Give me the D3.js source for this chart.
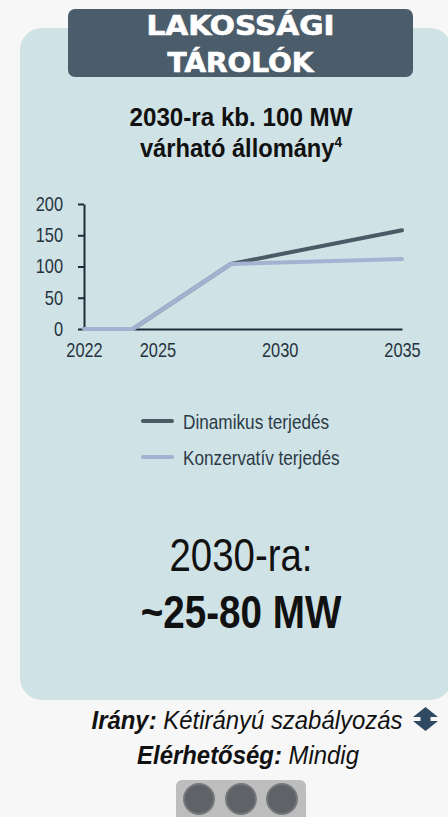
<!DOCTYPE html>
<html><head><meta charset="utf-8">
<script src="https://cdn.jsdelivr.net/npm/d3@7"></script>
<style>
html,body{margin:0;padding:0;background:#f7f7f7;}
svg{display:block;}
</style></head>
<body>
<svg id="chart" width="448" height="817"></svg>
<script>
// ---- data ----
const years = [2022, 2024, 2028, 2035];
const dynamicValues = [0, 0, 104, 158];
const conservativeValues = [0, 0, 104, 112];
const seriesNames = ["Dinamikus terjedés", "Konzervatív terjedés"];
const yTickValues = [0, 50, 100, 150, 200];
const xTickValues = [2022, 2025, 2030, 2035];
const headerLines = ["LAKOSSÁGI", "TÁROLÓK"];
const titleLines = ["2030-ra kb. 100 MW", "várható állomány"];
const bigLines = ["2030-ra:", "~25-80 MW"];

const svg = d3.select("#chart");
const FONT = '"Liberation Sans Narrow","Arial Narrow","Liberation Sans",Arial,sans-serif';

// narrow text helper: horizontally condensed text
function ntext(x, y, sx, size, opts={}) {
  const g = svg.append("g").attr("transform",`translate(${x},${y}) scale(${sx},1)`);
  const t = g.append("text").attr("x",0).attr("y",0)
    .attr("text-anchor",opts.anchor||"middle")
    .attr("font-family",FONT).attr("font-size",size)
    .attr("font-weight",opts.weight||"normal")
    .attr("font-style",opts.style||"normal")
    .attr("fill",opts.fill||"#111");
  return t;
}

// background
svg.append("rect").attr("width",448).attr("height",817).attr("fill","#f7f7f7");
// panel
svg.append("rect").attr("x",20).attr("y",28).attr("width",432).attr("height",672)
  .attr("rx",22).attr("fill","#cfe2e6");
// header
svg.append("rect").attr("x",68).attr("y",9).attr("width",345).attr("height",68)
  .attr("rx",7).attr("fill","#4b5d6b");
const hdrW = [188, 146];
headerLines.forEach((t,i)=>{
  svg.append("text").attr("x",240.5).attr("y",[35,72][i]).attr("text-anchor","middle")
    .attr("font-family","'DejaVu Sans',sans-serif").attr("font-weight","bold")
    .attr("font-size",27).attr("fill","#ffffff").attr("stroke","#ffffff").attr("stroke-width",0.7)
    .attr("textLength",hdrW[i]).attr("lengthAdjust","spacingAndGlyphs").text(t);
});

// title
ntext(241,126,0.93,26,{weight:"bold"}).text(titleLines[0]);
const t2 = ntext(241,157,0.91,26,{weight:"bold"});
t2.append("tspan").text(titleLines[1]);
t2.append("tspan").attr("font-size",15).attr("dy",-10).text("4");

// scales
const x = d3.scaleLinear().domain([2022,2035]).range([84,402]);
const y = d3.scaleLinear().domain([0,200]).range([329,204]);

// axes
const yAxis = svg.append("g").attr("transform","translate(84,0)")
  .call(d3.axisLeft(y).tickValues(yTickValues).tickSizeInner(6).tickSizeOuter(0).tickPadding(15));
const xAxis = svg.append("g").attr("transform","translate(0,329)")
  .call(d3.axisBottom(x).tickValues(xTickValues).tickFormat(d3.format("d")).tickSize(0).tickPadding(14));
[yAxis,xAxis].forEach(g=>{
  g.select(".domain").attr("stroke","#1f2c38").attr("stroke-width",2);
  g.selectAll(".tick line").attr("stroke","#1f2c38").attr("stroke-width",2);
  g.selectAll(".tick text").attr("font-family",FONT).attr("font-size",20).attr("fill","#26323d");
});
yAxis.selectAll(".tick text").each(function(){
  const tx = +d3.select(this).attr("x");
  d3.select(this).attr("x",0).attr("transform",`translate(${tx},0) scale(0.82,1)`);
});
xAxis.selectAll(".tick text").attr("transform","scale(0.82,1)");

// lines
const line = d3.line().x((d,i)=>x(years[i])).y(d=>y(d));
const colors = ["#4b5a65","#a3b2d0"];
[dynamicValues, conservativeValues].forEach((vals,k)=>{
  svg.append("path").datum(vals).attr("d",line).attr("fill","none")
    .attr("stroke",colors[k]).attr("stroke-width",4).attr("stroke-linejoin","round").attr("stroke-linecap","round");
});

// legend
seriesNames.forEach((n,i)=>{
  const yy = 421 + i*36;
  svg.append("line").attr("x1",143).attr("x2",172).attr("y1",yy).attr("y2",yy)
    .attr("stroke",colors[i]).attr("stroke-width",4).attr("stroke-linecap","round");
  ntext(183,yy+8,0.86,20,{anchor:"start",fill:"#2c3a46"}).text(n);
});

// big text
ntext(241,571,0.835,46).text(bigLines[0]);
ntext(241,628,0.84,46,{weight:"bold"}).text(bigLines[1]);

// bottom texts
const b1 = ntext(247,729,0.92,26,{style:"italic"});
b1.append("tspan").attr("font-weight","bold").text("Irány:");
b1.append("tspan").text(" Kétirányú szabályozás");
const b2 = ntext(248,764,0.92,26,{style:"italic"});
b2.append("tspan").attr("font-weight","bold").text("Elérhetőség:");
b2.append("tspan").text(" Mindig");

// double arrow icon
const ax = 425.5, ay = 719;
svg.append("path").attr("fill","#2f4a60").attr("d",
  `M${ax},${ay-12} L${ax+12.5},${ay-2} L${ax+5},${ay-2} L${ax+5},${ay+2} L${ax+12.5},${ay+2} L${ax},${ay+12} L${ax-12.5},${ay+2} L${ax-5},${ay+2} L${ax-5},${ay-2} L${ax-12.5},${ay-2} Z`);

// availability dots
svg.append("rect").attr("x",176).attr("y",780).attr("width",130).attr("height",44).attr("rx",6).attr("fill","#bdbdbd");
[199,241,282].forEach(cx=>{
  svg.append("circle").attr("cx",cx).attr("cy",799).attr("r",15).attr("fill","#5f6266")
    .attr("stroke","#77797d").attr("stroke-width",2);
});
</script>
</body></html>
